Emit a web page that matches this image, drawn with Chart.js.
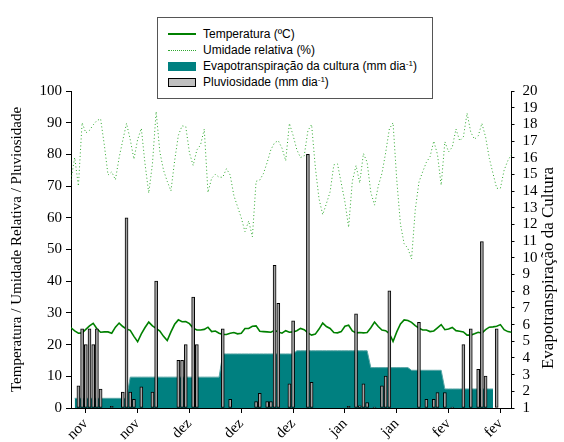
<!DOCTYPE html>
<html>
<head>
<meta charset="utf-8">
<script src="https://cdn.jsdelivr.net/npm/chart.js@4/dist/chart.umd.min.js"></script>
<style>
  body { margin: 0; background: #fff; }
  #wrap { position: relative; width: 564px; height: 442px; }
  .legend {
    position: absolute; left: 157px; top: 17px; width: 274px; height: 80px;
    border: 1px solid #555; background: #fff;
    font: 12px "Liberation Sans", Arial, sans-serif; color: #000;
  }
  .legend .row { position: absolute; left: 10px; height: 16px; line-height: 16px; white-space: nowrap; }
  .legend .sym { position: absolute; left: 0; width: 28px; }
  .legend .txt { position: absolute; left: 35px; top: 0; }
  .legend sup { font-size: 8px; vertical-align: 4px; line-height: 0; }
</style>
</head>
<body>
<div id="wrap">
  <canvas id="chart" width="564" height="442"></canvas>
  <div class="legend">
    <div class="row" style="top:8px"><span class="sym" style="top:7px;border-top:2px solid #008000"></span><span class="txt">Temperatura (ºC)</span></div>
    <div class="row" style="top:24px"><span class="sym" style="top:8px;border-top:1px dotted #2ea82e"></span><span class="txt">Umidade relativa (%)</span></div>
    <div class="row" style="top:40px"><span class="sym" style="top:4px;height:9px;background:#008080"></span><span class="txt">Evapotranspiração da cultura (mm dia<sup>-1</sup>)</span></div>
    <div class="row" style="top:56px"><span class="sym" style="top:4px;height:7px;width:26px;background:#c0c0c0;border:1px solid #000"></span><span class="txt">Pluviosidade (mm dia<sup>-1</sup>)</span></div>
  </div>
</div>
<script>
// dias desde o inicio do periodo (eixo x)
const days = Array.from({ length: 120 }, (_, i) => i);
const tickDays = [4, 18, 32, 46, 60, 74, 88, 102, 116];
const tickLabels = ['nov', 'nov', 'dez', 'dez', 'dez', 'jan', 'jan', 'fev', 'fev'];

const temperatura = [
  25.3, 24.3, 23.6, 23.7, 24.8, 25.9, 26.7, 25.0, 23.9, 24.0,
  24.0, 23.6, 25.5, 26.8, 25.7, 24.9, 24.5, 22.6, 20.9, 23.4,
  25.4, 27.1, 25.9, 25.1, 24.3, 22.6, 21.3, 24.0, 26.4, 27.8,
  27.2, 27.3, 26.6, 25.2, 24.6, 24.6, 24.8, 25.5, 24.1, 24.3,
  23.6, 23.2, 23.2, 23.6, 23.8, 23.4, 23.6, 25.1, 25.1, 25.8,
  25.9, 24.2, 24.1, 24.0, 23.9, 24.5, 24.0, 23.6, 24.4, 23.9,
  24.0, 24.4, 25.1, 24.7, 23.7, 23.0, 23.3, 24.9, 26.8, 25.7,
  25.1, 23.8, 23.7, 24.1, 25.8, 26.1, 24.3, 23.7, 23.8, 23.7,
  23.8, 25.3, 27.1, 25.7, 24.6, 24.4, 23.5, 21.0, 24.0, 26.5,
  27.8, 27.6, 27.0, 26.0, 25.2, 24.6, 24.6, 24.1, 24.3, 25.3,
  26.3, 24.7, 24.9, 25.4, 24.4, 24.2, 24.0, 23.0, 23.0, 23.4,
  23.9, 23.6, 24.7, 25.5, 25.6, 25.8, 26.3, 24.7, 24.1, 23.9
];

const umidade = [
  72, 79, 70, 90, 86.8, 87.6, 89.3, 90.7, 91.2, 83,
  73.5, 74.5, 72, 79, 84.5, 89.8, 84.7, 78.5, 84.7, 88.2,
  77, 67.8, 77, 93.5, 80.8, 75, 71.5, 68.5, 78, 86,
  89, 88.8, 80.5, 76.5, 81.4, 83, 88, 68, 72.5, 73.7,
  72.8, 72.8, 75.5, 73.5, 67, 63.5, 60, 55.6, 59, 54,
  71.5, 71.9, 74, 77.5, 81.5, 83.7, 84.3, 82, 78, 89.8,
  86, 81.5, 79, 79.5, 87.5, 89.4, 76, 66, 61, 64.5,
  68.2, 76.7, 77, 71, 65, 57, 71.5, 76.5, 71, 80.3,
  77.5, 68, 64, 70, 74, 80.5, 88, 90, 72, 58,
  51.8, 50.4, 47, 62.5, 71.3, 74.5, 77.5, 79.3, 84.2, 80,
  70.3, 84, 80.8, 82.3, 88, 84.3, 85.5, 93, 87, 84.8,
  85.8, 89.8, 85.5, 78.8, 74, 69.3, 69.3, 75, 78, 80
];

// evapotranspiracao da cultura (mm dia-1), eixo direito
const evapotranspiracao = [
  null,
  1.58, 1.58, 1.58, 1.58, 1.58, 1.58, 1.58, 1.58, 1.58, 1.58, 1.58, 1.58, 1.58, 1.58, 1.58,
  2.85, 2.85, 2.85, 2.85, 2.85, 2.85, 2.85, 2.85, 2.85, 2.85, 2.85, 2.85, 2.85, 2.85, 2.85,
  2.85, 2.85, 2.85, 2.85, 2.85, 2.85, 2.85, 2.85, 2.85, 2.85,
  4.24, 4.24, 4.24, 4.24, 4.24, 4.24, 4.24, 4.24, 4.24, 4.24,
  4.24, 4.24, 4.24, 4.24, 4.24, 4.24, 4.24, 4.24, 4.24, 4.24,
  4.43, 4.43, 4.43, 4.43, 4.43, 4.43, 4.43, 4.43, 4.43, 4.43,
  4.43, 4.43, 4.43, 4.43, 4.43, 4.43, 4.43, 4.43, 4.43, 4.43,
  3.42, 3.42, 3.42, 3.42, 3.42, 3.42, 3.42, 3.42, 3.42, 3.42, 3.42,
  3.26, 3.26, 3.26, 3.26, 3.26, 3.26, 3.26, 3.26, 3.26,
  2.14, 2.14, 2.14, 2.14, 2.14, 2.14, 2.14, 2.14, 2.14, 2.14, 2.14, 2.14, 2.14, 2.14,
  null, null, null, null, null
];

// pluviosidade: dias com chuva e valores (mm)
const chuvaDias = [2, 3, 4, 5, 6, 7, 8, 11, 14, 15, 16, 17, 19, 22, 23, 29, 30, 31, 33, 34,
  41, 43, 50, 51, 53, 54, 55, 56, 59, 60, 64, 65, 75, 77, 78, 79, 80, 82, 84, 85, 86,
  94, 96, 98, 99, 101, 103, 106, 108, 110, 111, 112, 115];
const chuvaValores = [7, 25, 20, 25, 20, 25, 6, 0.5, 5, 60, 5, 2.7, 6.7, 5, 40, 15, 15, 20, 35, 20,
  25, 2.7, 2, 4.6, 2, 2, 45, 33, 7.6, 27.5, 80, 8.1, 0.5, 29.7, 0.7, 7.6, 1.7, 0.3, 7, 10.1, 37,
  27, 2.7, 2.7, 4.9, 4.9, 0.3, 20, 25, 12.2, 52.5, 10.1, 25];

let pluviosidade = days.map(d => {
  let k = chuvaDias.indexOf(d);
  return k >= 0 ? chuvaValores[k] : null;
});

const serif = "'Liberation Serif', 'Times New Roman', serif";
Chart.defaults.font.family = serif;
Chart.defaults.font.size = 15;
Chart.defaults.color = '#000';

const rightTitle = {
  id: 'rightTitle',
  afterDraw(chart) {
    const c = chart.ctx;
    c.save();
    c.font = '17px ' + serif;
    c.fillStyle = '#000';
    c.translate(549, 268);
    c.rotate(-Math.PI / 2);
    c.textAlign = 'center';
    c.textBaseline = 'middle';
    c.fillText('Evapotranspiração da Cultura', 0, 0);
    c.restore();
  }
};

let axisGrid = len => ({ display: true, drawOnChartArea: false, drawTicks: true, tickLength: len, color: '#000', offset: false });

new Chart(document.getElementById('chart').getContext('2d'), {
  data: {
    labels: days,
    datasets: [
      {
        type: 'bar', label: 'Pluviosidade (mm dia-1)', data: pluviosidade, yAxisID: 'y',
        backgroundColor: '#a4a4a4', borderColor: '#000', borderWidth: 1, borderSkipped: false,
        barThickness: 3, order: 0
      },
      {
        type: 'line', label: 'Temperatura (ºC)', data: temperatura, yAxisID: 'y',
        borderColor: '#008000', borderWidth: 1.6, pointRadius: 0, tension: 0, order: 1
      },
      {
        type: 'line', label: 'Umidade relativa (%)', data: umidade, yAxisID: 'y',
        borderColor: '#2ea82e', borderWidth: 1, borderDash: [1, 2.5], pointRadius: 0, tension: 0, order: 1
      },
      {
        type: 'line', label: 'Evapotranspiração da cultura (mm dia-1)', data: evapotranspiracao, yAxisID: 'y1',
        borderColor: '#5aa6a6', borderWidth: 1, backgroundColor: '#008080', fill: 'start',
        pointRadius: 0, tension: 0, order: 2
      }
    ]
  },
  options: {
    responsive: false,
    animation: false,
    devicePixelRatio: 1,
    layout: { padding: { top: 91, left: 0, right: 0, bottom: 0 } },
    plugins: { legend: { display: false }, tooltip: { enabled: false } },
    scales: {
      x: {
        type: 'linear', min: 0, max: 119, offset: false,
        afterBuildTicks: s => { s.ticks = tickDays.map(v => ({ value: v })); },
        afterFit: s => { s.height = 34; },
        ticks: {
          autoSkip: false, minRotation: 45, maxRotation: 45, padding: 2,
          color: '#000', font: { family: serif, size: 15 },
          callback: (v, i) => tickLabels[i]
        },
        grid: axisGrid(5),
        border: { display: true, color: '#000', width: 1 }
      },
      y: {
        position: 'left', min: 0, max: 100,
        afterFit: s => { s.width = 71; },
        ticks: { stepSize: 10, autoSkip: false, padding: 4, color: '#000', font: { family: serif, size: 15 } },
        grid: axisGrid(5),
        border: { display: true, color: '#000', width: 1 },
        title: {
          display: true, text: 'Temperatura / Umidade Relativa / Pluviosidade', color: '#000',
          font: { family: serif, size: 15 }, padding: { top: 8, bottom: 0 }
        }
      },
      y1: {
        position: 'right', min: 1, max: 20,
        afterFit: s => { s.width = 52.5; },
        ticks: { stepSize: 1, autoSkip: false, padding: 8, color: '#000', font: { family: serif, size: 15 } },
        grid: axisGrid(3),
        border: { display: true, color: '#000', width: 1 }
      }
    }
  },
  plugins: [rightTitle]
});
</script>
</body>
</html>
